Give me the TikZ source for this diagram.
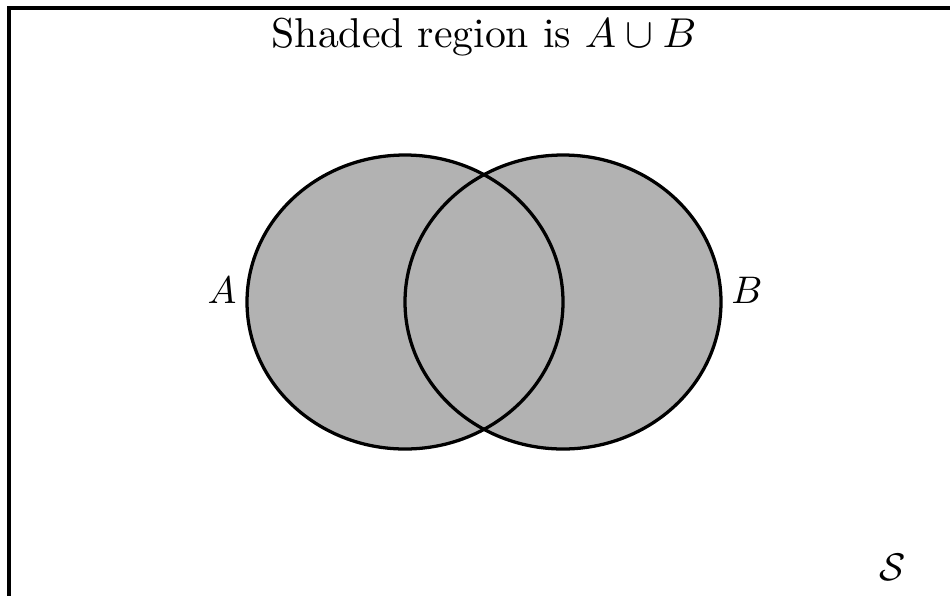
\documentclass[tikz,border=0pt]{standalone}
\begin{document}
\begin{tikzpicture}[x=0.26pt,y=-0.26pt,
  setline/.style={line width=0.85pt},
  lbl/.style={inner sep=0pt}]
\useasboundingbox (0,0) rectangle (950,595);
\clip (0,0) rectangle (950,595);
\fill[black!30] (405,302) ellipse [x radius=158, y radius=147];
\fill[black!30] (563,302) ellipse [x radius=158, y radius=147];
\draw[setline] (405,302) ellipse [x radius=158, y radius=147];
\draw[setline] (563,302) ellipse [x radius=158, y radius=147];
\draw[line width=0.95pt] (9,620) -- (9,8) -- (970,8);
\node[lbl,scale=1.085] (title) at (484,37) {Shaded region is $A\cup B$};
\node[lbl] (la) at (222,290) {$A$};
\node[lbl] (lb) at (747,290) {$B$};
\node[lbl] (ls) at (893,567) {$\mathcal{S}$};
\end{tikzpicture}
\end{document}
